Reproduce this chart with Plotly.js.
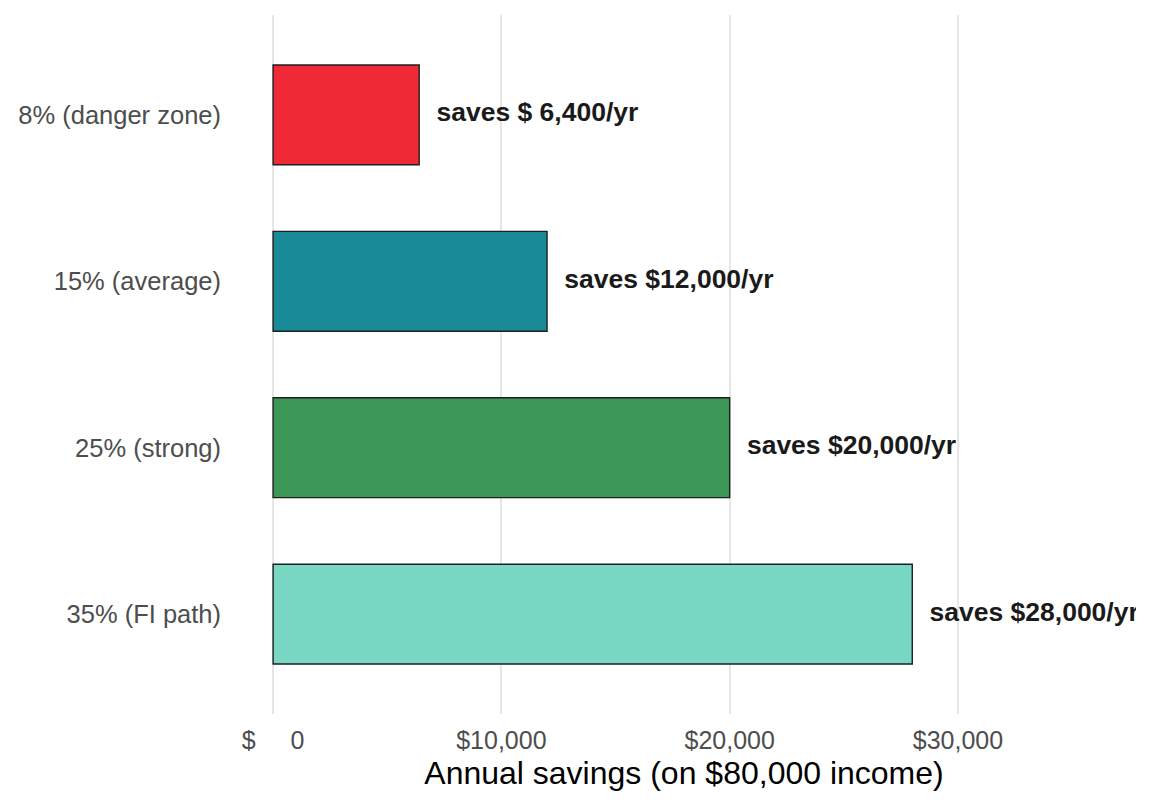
<!DOCTYPE html>
<html>
<head>
<meta charset="utf-8">
<script src="https://cdn.plot.ly/plotly-3.0.1.min.js"></script>
<style>
  html, body { margin: 0; padding: 0; background: #fff; }
  #chart { width: 1152px; height: 806px; }
</style>
</head>
<body>
<div id="chart"></div>
<script>
// Savings rate categories (top to bottom)
const categories = ['8% (danger zone)', '15% (average)', '25% (strong)', '35% (FI path)'];
const savings = [6400, 12000, 20000, 28000];
const barLabels = ['saves $ 6,400/yr', 'saves $12,000/yr', 'saves $20,000/yr', 'saves $28,000/yr'];
const barColors = ['#EF2A36', '#198A98', '#3D9858', '#78D8C4'];

// x axis ticks
const xTickVals = [0, 10000, 20000, 30000];
const xTickText = ['$\u00a0\u00a0\u00a0\u00a0\u00a00', '$10,000', '$20,000', '$30,000'];

const fontFamily = '"Liberation Sans", Arial, sans-serif';

var barTrace = {
  type: 'bar',
  orientation: 'h',
  x: savings,
  y: categories,
  width: 0.6,
  marker: {
    color: barColors,
    line: { color: '#1f1f1f', width: 1.4 },
  },
  hoverinfo: 'skip',
  showlegend: false,
};

// Value labels to the right of each bar (clipped by the panel like the original)
var labelTrace = {
  type: 'scatter',
  mode: 'markers+text',
  x: savings,
  y: categories,
  text: barLabels,
  textposition: 'middle right',
  textfont: { family: fontFamily, size: 26.5, color: '#1a1a1a', weight: 'bold' },
  marker: { size: 26, opacity: 0 },
  cliponaxis: true,
  hoverinfo: 'skip',
  showlegend: false,
};

var layout = {
  width: 1152,
  height: 806,
  margin: { t: 15, b: 92, l: 232, r: 16, pad: 0 },
  plot_bgcolor: '#ffffff',
  paper_bgcolor: '#ffffff',
  font: { family: fontFamily, color: '#4d4d4d' },
  xaxis: {
    range: [-1800, 37800],
    tickvals: xTickVals,
    ticktext: xTickText,
    showgrid: true,
    gridcolor: '#e6e6e6',
    gridwidth: 2.2,
    zeroline: false,
    showline: false,
    ticks: '',
    ticklabelstandoff: 9,
    tickfont: { family: fontFamily, size: 25, color: '#4d4d4d' },
    title: {
      text: 'Annual savings (on $80,000 income)',
      font: { family: fontFamily, size: 32, color: '#000000' },
      standoff: 8,
    },
  },
  yaxis: {
    type: 'category',
    categoryorder: 'array',
    categoryarray: categories,
    range: [3.6, -0.6],
    showgrid: false,
    zeroline: false,
    showline: false,
    ticks: '',
    ticklabelstandoff: 10,
    tickfont: { family: fontFamily, size: 25.5, color: '#4d4d4d' },
  },
};

var config = { responsive: false, displayModeBar: false, staticPlot: true };

Plotly.newPlot('chart', [barTrace, labelTrace], layout, config);
</script>
</body>
</html>
